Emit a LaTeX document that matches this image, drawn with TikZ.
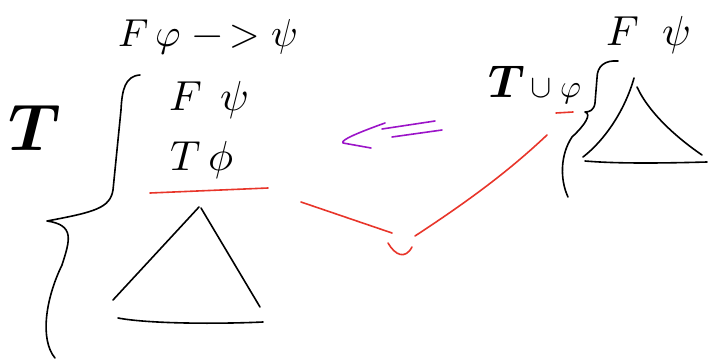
\documentclass[tikz,border=0pt]{standalone}
\usepackage{amsmath}
\usepackage{unicode-math}
\usepackage{tikz}
\usetikzlibrary{arrows.meta,calc,positioning}
\usepackage{xcolor}
\definecolor{inkred}{HTML}{E8352A}
\definecolor{inkpurple}{HTML}{9B14C8}

\begin{document}
\begin{tikzpicture}[x=1pt,y=-1pt,
  ink/.style={line width=1.6pt,line cap=round,line join=round},
  hand/.style={inner sep=0pt,font=\fontsize{42}{46}\selectfont}]
\useasboundingbox (0,0) rectangle (708,361);

% --- left: the tableau for T ---
\node[hand,font=\fontsize{39}{43}\selectfont] (fimp) at (208,37) {$F\,\varphi\ {-}\,{>}\ \psi$};
\node[inner sep=0pt,font=\fontsize{66}{70}\selectfont] (bigT) at (35,128) {$\symbfit{T}$};
\node[hand] (fpsi) at (209,100) {$F\;\,\psi$};
\node[hand] (tphi) at (202,160) {$T\,\phi$};
\draw[ink] (140,75) .. controls (125,76) and (122,90) .. (121,110) -- (113,190)
  .. controls (110,208) and (95,212) .. (47,221)
  .. controls (75,225) and (70,240) .. (62,265)
  .. controls (45,300) and (40,340) .. (55,358);
\draw[ink,inkred] (150,193) -- (268,188);
\draw[ink] (199,207) -- (113,300) (201,208) -- (260,307);
\draw[ink] (118,318) .. controls (150,324) and (220,324) .. (263,322);

% --- the arrow between them ---
\draw[ink,inkpurple] (385,123) .. controls (360,132) and (340,140) .. (343,143) -- (371,148);
\draw[ink,inkpurple] (382,129) -- (435,121) (392,137) -- (442,130);

% --- red link ---
\draw[ink,inkred] (301,202) -- (392,233);
\draw[ink,inkred] (388,243) .. controls (395,255) and (405,260) .. (412,247);
\draw[ink,inkred] (415,236) .. controls (470,200) and (510,170) .. (547,135);

% --- right: the tableau for T with phi ---
\node[inner sep=0pt,anchor=base] (tuphi) at (535,97)
  {\fontsize{46}{50}\selectfont$\symbfit{T}$\fontsize{32}{36}\selectfont$\,\cup\;\varphi$};
\draw[ink,inkred] (556,113) -- (573,112);
\node[hand] (fpsi2) at (648,35) {$F\;\;\psi$};
\draw[ink] (618,61) .. controls (605,60) and (597,66) .. (597,78) -- (595,103)
  .. controls (594,110) and (590,112) .. (585,112)
  .. controls (592,114) and (585,125) .. (572,137)
  .. controls (560,155) and (560,180) .. (568,197);
\draw[ink] (634,78) .. controls (625,110) and (605,140) .. (583,157);
\draw[ink] (637,87) .. controls (650,115) and (680,140) .. (702,155);
\draw[ink] (585,161) .. controls (620,164) and (670,163) .. (707,162);

\end{tikzpicture}
\end{document}
